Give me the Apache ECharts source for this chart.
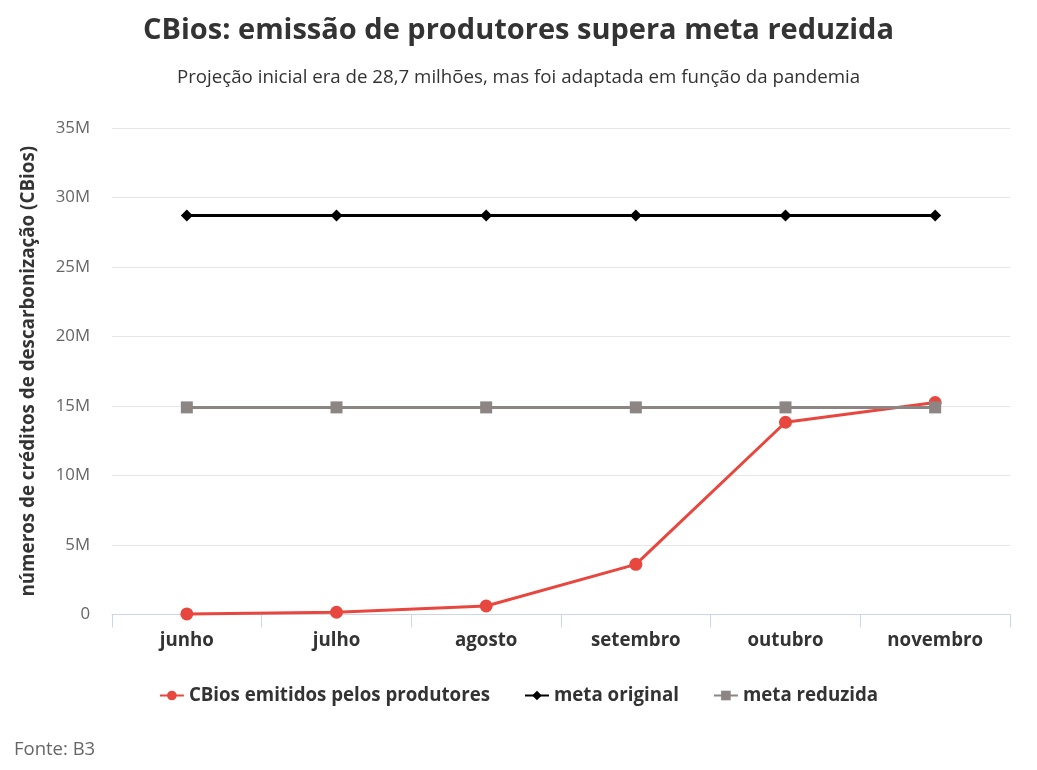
<!DOCTYPE html>
<html>
<head>
<meta charset="utf-8">
<script src="https://cdn.jsdelivr.net/npm/echarts@6/dist/echarts.min.js"></script>
<style>
  html, body { margin: 0; padding: 0; background: #fff; }
  #container { width: 1037px; height: 770px; }
</style>
</head>
<body>
<div id="container"></div>
<script>
var meses = ["junho", "julho", "agosto", "setembro", "outubro", "novembro"];
var emitidos = [40000, 160000, 610000, 3610000, 13830000, 15250000];
var metaOriginal = [28700000, 28700000, 28700000, 28700000, 28700000, 28700000];
var metaReduzida = [14900000, 14900000, 14900000, 14900000, 14900000, 14900000];

var fonte = "Open Sans";
var myChart = echarts.init(document.getElementById("container"));

myChart.setOption({
  backgroundColor: "#ffffff",
  textStyle: { fontFamily: fonte },
  title: [
    {
      text: "CBios: emissão de produtores supera meta reduzida",
      left: "center",
      top: 11,
      textStyle: { fontFamily: fonte, fontSize: 29, fontWeight: "bold", color: "#333333" },
    },
    {
      text: "Projeção inicial era de 28,7 milhões, mas foi adaptada em função da pandemia",
      left: "center",
      top: 63,
      textStyle: { fontFamily: fonte, fontSize: 18.7, fontWeight: "normal", color: "#333333" },
    },
    {
      text: "Fonte: B3",
      left: 9,
      top: 735,
      textStyle: { fontFamily: fonte, fontSize: 18.5, fontWeight: "normal", color: "#666666" },
    },
  ],
  legend: {
    top: 681,
    left: "center",
    itemGap: 34,
    itemWidth: 24,
    itemHeight: 12,
    textStyle: { fontFamily: fonte, fontSize: 18.7, fontWeight: "bold", color: "#333333" },
    data: ["CBios emitidos pelos produtores", "meta original", "meta reduzida"],
  },
  grid: { left: 112, right: 27, top: 128, bottom: 155.5 },
  xAxis: {
    type: "category",
    data: meses,
    boundaryGap: true,
    axisLine: { lineStyle: { color: "#ccd6eb", width: 1 } },
    axisTick: { show: true, length: 13, lineStyle: { color: "#ccd6eb" } },
    axisLabel: { fontFamily: fonte, fontSize: 18.7, fontWeight: "bold", color: "#333333", margin: 17 },
  },
  yAxis: {
    type: "value",
    min: 0,
    max: 35000000,
    interval: 5000000,
    name: "números de créditos de descarbonização (CBios)",
    nameLocation: "middle",
    nameGap: 74,
    nameRotate: 90,
    nameTextStyle: { fontFamily: fonte, fontSize: 18.8, fontWeight: "bold", color: "#333333" },
    axisLine: { show: false },
    axisTick: { show: false },
    splitLine: { lineStyle: { color: "#e6e6e6", width: 1 } },
    axisLabel: {
      fontFamily: fonte,
      fontSize: 16.8,
      color: "#666666",
      margin: 22,
      formatter: function (v) {
        return v === 0 ? "0" : v / 1000000 + "M";
      },
    },
  },
  series: [
    {
      name: "CBios emitidos pelos produtores",
      type: "line",
      data: emitidos,
      symbol: "circle",
      symbolSize: 13,
      z: 3,
      lineStyle: { color: "#e8473f", width: 3 },
      itemStyle: { color: "#e8473f" },
    },
    {
      name: "meta original",
      type: "line",
      data: metaOriginal,
      symbol: "diamond",
      symbolSize: 12,
      lineStyle: { color: "#000000", width: 3 },
      itemStyle: { color: "#000000" },
    },
    {
      name: "meta reduzida",
      type: "line",
      data: metaReduzida,
      symbol: "rect",
      symbolSize: 12,
      z: 4,
      lineStyle: { color: "#8c8584", width: 3 },
      itemStyle: { color: "#8c8584" },
    },
  ],
});
</script>
</body>
</html>
